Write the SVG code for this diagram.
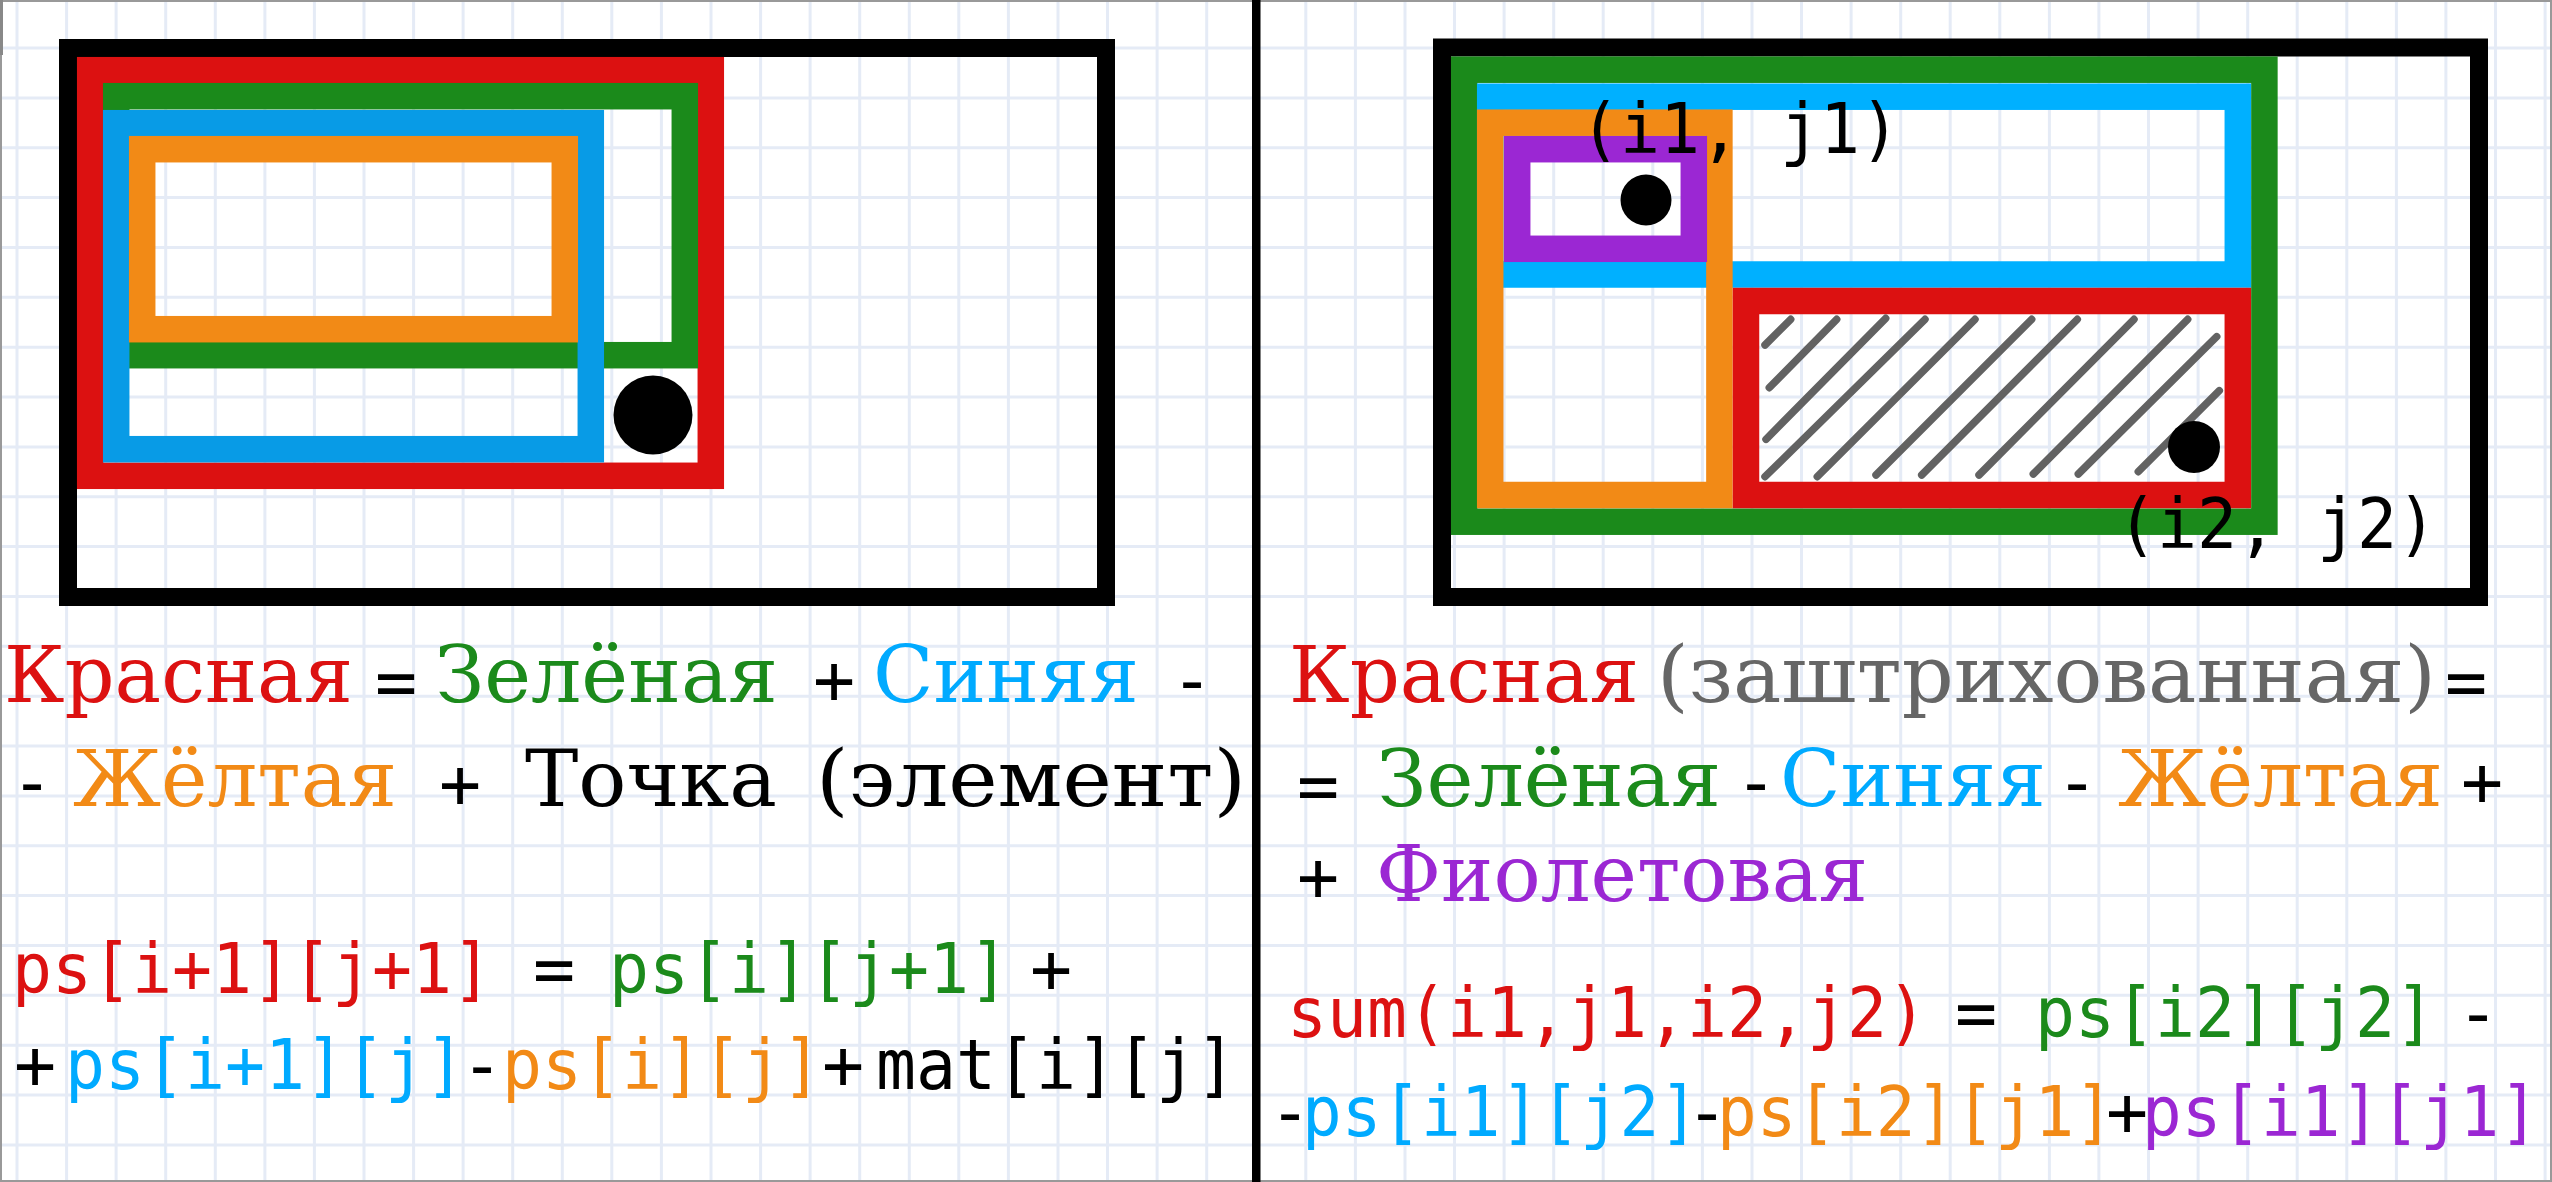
<svg xmlns="http://www.w3.org/2000/svg" width="2552" height="1182" viewBox="0 0 2552 1182">
<style>
.grid{stroke:#e5ebf6;stroke-width:3;fill:none}
.box{fill:none;stroke-width:26.5}
.frame{fill:none;stroke:#000;stroke-width:18}
.hatch{stroke:#626262;stroke-width:7.5;stroke-linecap:round;fill:none}
.sf{font-family:"DejaVu Serif","Liberation Serif",serif;font-size:78px}
.mo{font-family:"DejaVu Sans Mono","Liberation Mono",monospace;font-size:70px}
.op{font-family:"DejaVu Sans Mono","Liberation Mono",monospace;font-size:70px;text-anchor:middle;fill:#000}
.red{fill:#dc1111}.grn{fill:#1b8a1b}.blu{fill:#00aaff}.org{fill:#f28a16}.pur{fill:#9b27d3}.gry{fill:#666}.blk{fill:#000}
</style>
<rect width="2552" height="1182" fill="#fff"/>
<path class="grid" d="M17 0V1182M66.6 0V1182M116.1 0V1182M165.7 0V1182M215.3 0V1182M264.9 0V1182M314.4 0V1182M364 0V1182M413.6 0V1182M463.1 0V1182M512.7 0V1182M562.3 0V1182M611.8 0V1182M661.4 0V1182M711 0V1182M760.6 0V1182M810.1 0V1182M859.7 0V1182M909.3 0V1182M958.8 0V1182M1008.4 0V1182M1058 0V1182M1107.5 0V1182M1157.1 0V1182M1206.7 0V1182M1256.3 0V1182M1305.8 0V1182M1355.4 0V1182M1405 0V1182M1454.5 0V1182M1504.1 0V1182M1553.7 0V1182M1603.2 0V1182M1652.8 0V1182M1702.4 0V1182M1752 0V1182M1801.5 0V1182M1851.1 0V1182M1900.7 0V1182M1950.2 0V1182M1999.8 0V1182M2049.4 0V1182M2098.9 0V1182M2148.5 0V1182M2198.1 0V1182M2247.7 0V1182M2297.2 0V1182M2346.8 0V1182M2396.4 0V1182M2445.9 0V1182M2495.5 0V1182M2545.1 0V1182M0 48H2552M0 97.9H2552M0 147.7H2552M0 197.6H2552M0 247.4H2552M0 297.3H2552M0 347.2H2552M0 397H2552M0 446.9H2552M0 496.7H2552M0 546.6H2552M0 596.5H2552M0 646.3H2552M0 696.2H2552M0 746H2552M0 795.9H2552M0 845.8H2552M0 895.6H2552M0 945.5H2552M0 995.3H2552M0 1045.2H2552M0 1095.1H2552M0 1144.9H2552"/>
<rect x="1" y="1" width="2550" height="1180" fill="none" stroke="#999" stroke-width="2"/>
<rect x="0" y="0" width="3" height="55" fill="#888"/>
<rect x="1252" y="0" width="8.5" height="1182" fill="#000"/>

<g id="left-diagram">
<rect class="frame" x="68" y="48" width="1038" height="549"/>
<rect class="box" stroke="#dc1111" x="90.2" y="70.2" width="620.6" height="405.6"/>
<rect class="box" stroke="#1b8a1b" x="116.2" y="96.2" width="568.6" height="259"/>
<rect class="box" stroke="#089be6" x="116.2" y="123.2" width="474.6" height="326"/>
<rect class="box" stroke="#f28a16" x="142.2" y="149.2" width="422.6" height="180"/>
<circle cx="653" cy="415" r="39.5" fill="#000"/>
</g>

<g id="right-diagram">
<rect class="frame" x="1442" y="47.5" width="1037" height="549.5"/>
<rect class="box" stroke="#1b8a1b" x="1464.2" y="69.7" width="800.2" height="452"/>
<rect class="box" stroke="#00b0ff" x="1490.2" y="96.7" width="747.6" height="177.8"/>
<rect class="box" stroke="#f28a16" x="1490.2" y="122.7" width="229.2" height="372.3"/>
<rect class="box" stroke="#9b27d3" x="1517.2" y="149.2" width="176.6" height="99.6"/>
<rect class="box" stroke="#dc1111" x="1746" y="301" width="491.8" height="194"/>
<path class="hatch" d="M1765 345L1790.7 319.3M1769.3 387.7L1836.7 319.3M1766 439.3L1885.7 318.3M1765 476.7L1925 319.3M1817.3 476.7L1975 319.3M1876 475L2031.7 319.3M1921.7 475L2077.3 319.3M1979 475L2134 319.3M2033.3 474L2187.7 319.3M2078.3 474L2216.7 336.7M2138.3 471.7L2219.3 390.7"/>
<circle cx="1646" cy="200" r="25.5" fill="#000"/>
<circle cx="2194" cy="447" r="26" fill="#000"/>
<text class="mo blk" font-size="72" x="1580" y="153" textLength="320" lengthAdjust="spacingAndGlyphs">(i1, j1)</text>
<text class="mo blk" font-size="72" x="2117" y="548" textLength="320" lengthAdjust="spacingAndGlyphs">(i2, j2)</text>
</g>

<g id="left-text">
<text class="sf red" x="4" y="702" textLength="349" lengthAdjust="spacingAndGlyphs">Красная</text>
<text class="op" x="396" y="706">=</text>
<text class="sf grn" x="435" y="702" textLength="343" lengthAdjust="spacingAndGlyphs">Зелёная</text>
<text class="op" x="834" y="704">+</text>
<text class="sf blu" x="873" y="702" textLength="266" lengthAdjust="spacingAndGlyphs">Синяя</text>
<text class="op" x="1192" y="704">-</text>

<text class="op" x="32" y="806">-</text>
<text class="sf org" x="73" y="806" textLength="324" lengthAdjust="spacingAndGlyphs">Жёлтая</text>
<text class="op" x="460" y="808">+</text>
<text class="sf blk" x="525" y="806" textLength="252" lengthAdjust="spacingAndGlyphs">Точка</text>
<text class="sf blk" x="816" y="806" textLength="430" lengthAdjust="spacingAndGlyphs">(элемент)</text>

<text class="mo red" x="12" y="993" textLength="480" lengthAdjust="spacingAndGlyphs">ps[i+1][j+1]</text>
<text class="op" x="554" y="993">=</text>
<text class="mo grn" x="609" y="993" textLength="400" lengthAdjust="spacingAndGlyphs">ps[i][j+1]</text>
<text class="op" x="1051" y="993">+</text>

<text class="op" x="35" y="1089">+</text>
<text class="mo blu" x="65" y="1089" textLength="400" lengthAdjust="spacingAndGlyphs">ps[i+1][j]</text>
<text class="op" x="482" y="1089">-</text>
<text class="mo org" x="502" y="1089" textLength="320" lengthAdjust="spacingAndGlyphs">ps[i][j]</text>
<text class="op" x="843" y="1089">+</text>
<text class="mo blk" x="876" y="1089" textLength="360" lengthAdjust="spacingAndGlyphs">mat[i][j]</text>
</g>

<g id="right-text">
<text class="sf red" x="1289" y="702" textLength="350" lengthAdjust="spacingAndGlyphs">Красная</text>
<text class="sf gry" x="1657" y="702" textLength="779" lengthAdjust="spacingAndGlyphs">(заштрихованная)</text>
<text class="op" x="2466" y="706">=</text>

<text class="op" x="1318" y="810">=</text>
<text class="sf grn" x="1377" y="806" textLength="344" lengthAdjust="spacingAndGlyphs">Зелёная</text>
<text class="op" x="1756" y="806">-</text>
<text class="sf blu" x="1780" y="806" textLength="266" lengthAdjust="spacingAndGlyphs">Синяя</text>
<text class="op" x="2077" y="806">-</text>
<text class="sf org" x="2118" y="806" textLength="325" lengthAdjust="spacingAndGlyphs">Жёлтая</text>
<text class="op" x="2482" y="806">+</text>

<text class="op" x="1318" y="901">+</text>
<text class="sf pur" x="1376" y="901" textLength="492" lengthAdjust="spacingAndGlyphs">Фиолетовая</text>

<text class="mo red" x="1287" y="1037" textLength="640" lengthAdjust="spacingAndGlyphs">sum(i1,j1,i2,j2)</text>
<text class="op" x="1976" y="1037">=</text>
<text class="mo grn" x="2035" y="1037" textLength="400" lengthAdjust="spacingAndGlyphs">ps[i2][j2]</text>
<text class="op" x="2478" y="1037">-</text>

<text class="op" x="1290" y="1136">-</text>
<text class="mo blu" x="1302" y="1136" textLength="397" lengthAdjust="spacingAndGlyphs">ps[i1][j2]</text>
<text class="op" x="1707" y="1136">-</text>
<text class="mo org" x="1717" y="1136" textLength="397" lengthAdjust="spacingAndGlyphs">ps[i2][j1]</text>
<text class="op" x="2127" y="1136">+</text>
<text class="mo pur" x="2142" y="1136" textLength="397" lengthAdjust="spacingAndGlyphs">ps[i1][j1]</text>
</g>
</svg>
